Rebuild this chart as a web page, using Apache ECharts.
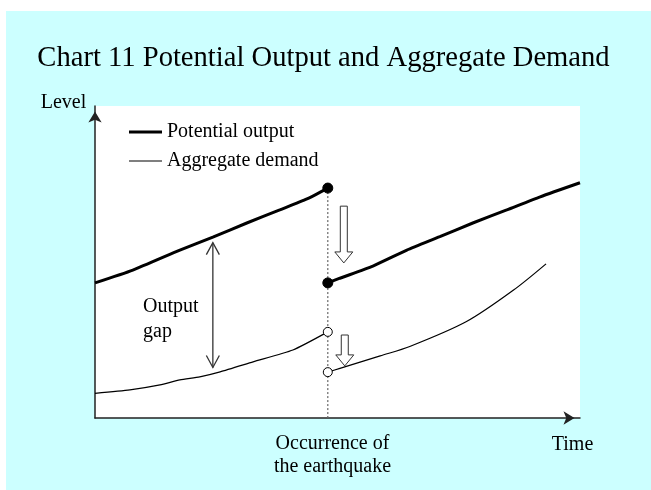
<!DOCTYPE html>
<html>
<head>
<meta charset="utf-8">
<script src="https://cdn.jsdelivr.net/npm/echarts@6/dist/echarts.min.js"></script>
<style>
  html, body { margin: 0; padding: 0; background: #ffffff; }
  #frame { position: absolute; left: 6px; top: 11px; width: 645px; height: 479px; background: #ccffff; }
  #chart { width: 645px; height: 479px; }
</style>
</head>
<body>
<div id="frame"><div id="chart"></div></div>
<script>
// ---- data (time / level on 0..100 scales) ----
const earthquakeX = 48;
const potentialPreX  = [0, 7.8, 17.5, 24.3, 31.3, 38.1, 43.7, 48];
const potentialPreY  = [43.3, 47.4, 53.8, 58.0, 62.5, 66.7, 70.2, 73.7];
const potentialPostX = [48, 50.5, 57.3, 64.3, 71.1, 77.9, 84.9, 91.8, 100];
const potentialPostY = [43.3, 44.8, 48.7, 53.8, 58.1, 62.5, 66.7, 70.9, 75.4];
const demandPreX  = [0, 7.2, 13.4, 17.5, 21.6, 25.8, 32.6, 40.8, 48];
const demandPreY  = [7.9, 9.0, 10.6, 12.2, 13.2, 14.8, 18.0, 21.8, 27.6];
const demandPostX = [48, 50.5, 58.8, 64.9, 76.6, 86.3, 93.0];
const demandPostY = [14.7, 15.9, 19.9, 22.9, 30.9, 41.0, 49.4];
// hollow "drop" arrows: [x, yTop, yTip]
const dropArrows = [[51.3, 67.9, 49.7], [51.5, 26.6, 16.7]];
// output gap double arrow: [x, yTop, yBottom]
const gapArrow = [[24.3, 56.2, 16.2]];
const seriesNames = ['Potential output', 'Aggregate demand'];
const titleText = 'Chart 11 Potential Output and Aggregate Demand';

const FONT = '"Times New Roman", "Liberation Serif", serif';

function pts(xs, ys, endIdx, marker) {
  return xs.map((x, i) => {
    const item = { value: [x, ys[i]] };
    if (i === endIdx) {
      item.symbol = 'circle';
      item.symbolSize = marker.size;
      item.itemStyle = marker.style;
    }
    return item;
  });
}
const filled = { size: 10, style: { color: '#000', borderColor: '#000', borderWidth: 1 } };
const hollow = { size: 9, style: { color: '#fff', borderColor: '#000', borderWidth: 1 } };

const chart = echarts.init(document.getElementById('chart'), null, { renderer: 'canvas' });
chart.setOption({
  animation: false,
  backgroundColor: 'transparent',
  grid: { left: 89, right: 71, top: 95, bottom: 72, show: true, backgroundColor: '#ffffff', borderWidth: 0 },
  xAxis: {
    type: 'value', min: 0, max: 100,
    axisLine: { show: true, onZero: false, symbol: ['none', 'arrow'], symbolSize: [10, 11], symbolOffset: [0, -5.5],
      lineStyle: { color: '#222', width: 1.5 } },
    axisTick: { show: false }, axisLabel: { show: false }, splitLine: { show: false }
  },
  yAxis: {
    type: 'value', min: 0, max: 100,
    axisLine: { show: true, onZero: false, symbol: ['none', 'arrow'], symbolSize: [10, 11], symbolOffset: [0, -5.5],
      lineStyle: { color: '#222', width: 1.5 } },
    axisTick: { show: false }, axisLabel: { show: false }, splitLine: { show: false }
  },
  legend: [
    { data: [seriesNames[0]], left: 123, top: 111, padding: 0, icon: 'rect', itemWidth: 33, itemHeight: 3,
      textStyle: { fontFamily: FONT, fontSize: 20, color: '#000', padding: [6, 0, 0, 0] } },
    { data: [seriesNames[1]], left: 123, top: 140, padding: 0, icon: 'rect', itemWidth: 33, itemHeight: 1,
      textStyle: { fontFamily: FONT, fontSize: 20, color: '#000', padding: [6, 0, 0, 0] } }
  ],
  series: [
    { type: 'line', name: 'quake', data: [[earthquakeX, potentialPreY[potentialPreY.length - 1]], [earthquakeX, 0]],
      symbol: 'none', lineStyle: { color: '#666', width: 1.2, type: [2, 2] }, z: 1, silent: true },
    { type: 'line', name: seriesNames[0], color: '#000', data: pts(potentialPreX, potentialPreY, potentialPreX.length - 1, filled),
      symbol: 'none', showSymbol: true, smooth: 0.2, lineStyle: { color: '#000', width: 3 }, z: 3 },
    { type: 'line', name: seriesNames[0], color: '#000', data: pts(potentialPostX, potentialPostY, 0, filled),
      symbol: 'none', showSymbol: true, smooth: 0.2, lineStyle: { color: '#000', width: 3 }, z: 3 },
    { type: 'line', name: seriesNames[1], color: '#000', data: pts(demandPreX, demandPreY, demandPreX.length - 1, hollow),
      symbol: 'none', showSymbol: true, smooth: 0.2, lineStyle: { color: '#000', width: 1.2 }, z: 3 },
    { type: 'line', name: seriesNames[1], color: '#000', data: pts(demandPostX, demandPostY, 0, hollow),
      symbol: 'none', showSymbol: true, smooth: 0.3, lineStyle: { color: '#000', width: 1.2 }, z: 3 },
    { type: 'custom', name: 'drop', data: dropArrows, dimensions: ['x', 'top', 'tip'], encode: { x: 0, y: [1, 2] }, z: 4,
      renderItem: function (params, api) {
        const top = api.coord([api.value(0), api.value(1)]);
        const tip = api.coord([api.value(0), api.value(2)]);
        const headH = 11, sw = 3.5, hw = 9, cx = top[0];
        return { type: 'polygon', shape: { points: [
          [cx - sw, top[1]], [cx + sw, top[1]], [cx + sw, tip[1] - headH], [cx + hw, tip[1] - headH],
          [cx, tip[1]], [cx - hw, tip[1] - headH], [cx - sw, tip[1] - headH]] },
          style: { fill: '#fff', stroke: '#333', lineWidth: 1 } };
      } },
    { type: 'custom', name: 'gap', data: gapArrow, dimensions: ['x', 'top', 'bottom'], encode: { x: 0, y: [1, 2] }, z: 4,
      renderItem: function (params, api) {
        const a = api.coord([api.value(0), api.value(1)]);
        const b = api.coord([api.value(0), api.value(2)]);
        const hw = 6.5, hh = 12, st = { stroke: '#333', lineWidth: 1.3, fill: null };
        return { type: 'group', children: [
          { type: 'line', shape: { x1: a[0], y1: a[1], x2: b[0], y2: b[1] }, style: st },
          { type: 'polyline', shape: { points: [[a[0] - hw, a[1] + hh], [a[0], a[1]], [a[0] + hw, a[1] + hh]] }, style: st },
          { type: 'polyline', shape: { points: [[b[0] - hw, b[1] - hh], [b[0], b[1]], [b[0] + hw, b[1] - hh]] }, style: st }
        ] };
      } }
  ],
  graphic: [
    { type: 'text', x: 317.5, y: 47, style: { text: titleText, font: '28.6px ' + FONT, fill: '#000', align: 'center', verticalAlign: 'middle' } },
    { type: 'text', x: 57.5, y: 91.5, style: { text: 'Level', font: '20px ' + FONT, fill: '#000', align: 'center', verticalAlign: 'middle' } },
    { type: 'text', x: 566.5, y: 434, style: { text: 'Time', font: '20px ' + FONT, fill: '#000', align: 'center', verticalAlign: 'middle' } },
    { type: 'text', x: 326.5, y: 444, style: { text: 'Occurrence of\nthe earthquake', font: '20px ' + FONT, lineHeight: 23, fill: '#000', align: 'center', verticalAlign: 'middle' } },
    { type: 'text', x: 137, y: 308.5, z: 10, style: { text: 'Output\ngap', font: '20px ' + FONT, lineHeight: 25, fill: '#000', align: 'left', verticalAlign: 'middle' } }
  ]
});
</script>
</body>
</html>
